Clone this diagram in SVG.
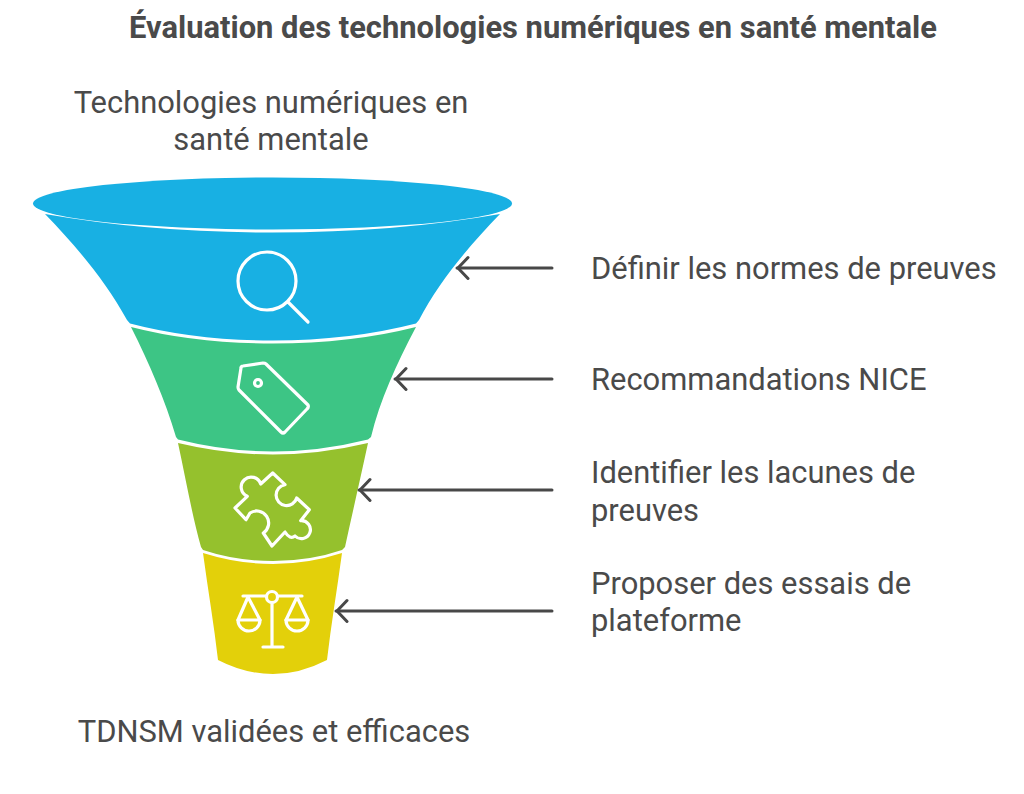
<svg xmlns="http://www.w3.org/2000/svg" width="1024" height="794" viewBox="0 0 1024 794">
<style>
text{font-family:Roboto,"Liberation Sans",sans-serif;fill:#4a4a4a;font-size:30.900px}
.t{font-weight:700}
.i{fill:none;stroke:#fff;stroke-width:3.200;stroke-linecap:round;stroke-linejoin:round}
.c{fill:none;stroke:#484848;stroke-width:3;stroke-linecap:round}
</style>
<defs><marker id="a" markerWidth="16" markerHeight="28" refX="14" refY="12" orient="auto" markerUnits="userSpaceOnUse"><path d="M3 1.500 L13 12 L3 22.500" fill="none" stroke="#484848" stroke-width="3" stroke-linecap="round"/></marker></defs>
<rect width="1024" height="794" fill="#fff"/>
<text class="t" x="533" y="38" text-anchor="middle">Évaluation des technologies numériques en santé mentale</text>
<text x="271" y="113" text-anchor="middle">Technologies numériques en</text>
<text x="271" y="150" text-anchor="middle">santé mentale</text>
<g id="stage1">
<ellipse cx="272.500" cy="203.500" rx="239.500" ry="26" fill="#18b0e3"/>
<path d="M45 214 Q150 232.500 272.500 232.500 Q395 232.500 500 214 C470 245 440 280 419 320 L416 323.500 Q350 340.500 272.500 340.500 Q195 340.500 130 323.500 L127 320 C105 280 75 245 45 214Z" fill="#18b0e3"/>
<g class="i"><circle cx="267" cy="281" r="29"/><path d="M288 302 L308 322"/></g>
</g>
<g id="stage2">
<path d="M131 327 Q195 343.500 273 343.500 Q351 343.500 416 327 C396 365 380 400 371 437 L368 439.500 Q320 451.500 273 451.500 Q226 451.500 178 439.500 L176 437 C165 400 150 365 131 327Z" fill="#3dc585"/>
<g class="i"><path d="M241 368 Q241 366 243 366 L263 363 Q265 363 266 364 L308 405 Q309 407 307 409 L285 432 Q283 434 281 432 L239 390 Q238 389 238 387Z"/><circle cx="258" cy="383" r="3.500"/></g>
</g>
<g id="stage3">
<path d="M178 443 Q226 454.500 273 454.500 Q320 454.500 368 443 C360 480 352 515 345 547 L342 550 Q310 561 273 561 Q236 561 203 550 L201 547 C192 515 186 480 178 443Z" fill="#95c12d"/>
<path class="i" d="M247.300 496.300 A10 10 0 1 1 260.700 484 L272.700 473 L285 484.700 A10.500 10.500 0 1 0 296.700 498 L309.300 509.700 L300.700 520.700 A9 9 0 1 1 295 536 Q290 540 285 532 L272 546 L263.300 533 A11 11 0 1 0 250 513 L246 519.700 L235 508Z"/>
</g>
<g id="stage4">
<path d="M203 553 Q238 564 273 564 Q308 564 342 553 C337 590 331 625 327 660 Q300 674 273 674 Q245 674 218 660 C214 625 208 590 203 553Z" fill="#e3d00a"/>
<g class="i"><path d="M243 596 H266 M278 596 H302 M272 603 V647 M263 647 H283"/><circle cx="272" cy="597" r="5.500"/><path d="M248 597 L238 620 H260Z M297 597 L286 620 H308Z"/><path d="M238 620 A11 11 0 0 0 260 620 M286 620 A11 11 0 0 0 308 620"/></g>
</g>
<g id="connectors">
<path class="c" marker-end="url(#a)" d="M552 268 H457"/>
<path class="c" marker-end="url(#a)" d="M552 379 H395"/>
<path class="c" marker-end="url(#a)" d="M552 490 H359"/>
<path class="c" marker-end="url(#a)" d="M552 611 H336"/>
</g>
<text x="591" y="279">Définir les normes de preuves</text>
<text x="591" y="390">Recommandations NICE</text>
<text x="591" y="482.500">Identifier les lacunes de</text>
<text x="591" y="520.500">preuves</text>
<text x="591" y="593.500">Proposer des essais de</text>
<text x="591" y="631">plateforme</text>
<text x="274" y="742" text-anchor="middle">TDNSM validées et efficaces</text>
</svg>
